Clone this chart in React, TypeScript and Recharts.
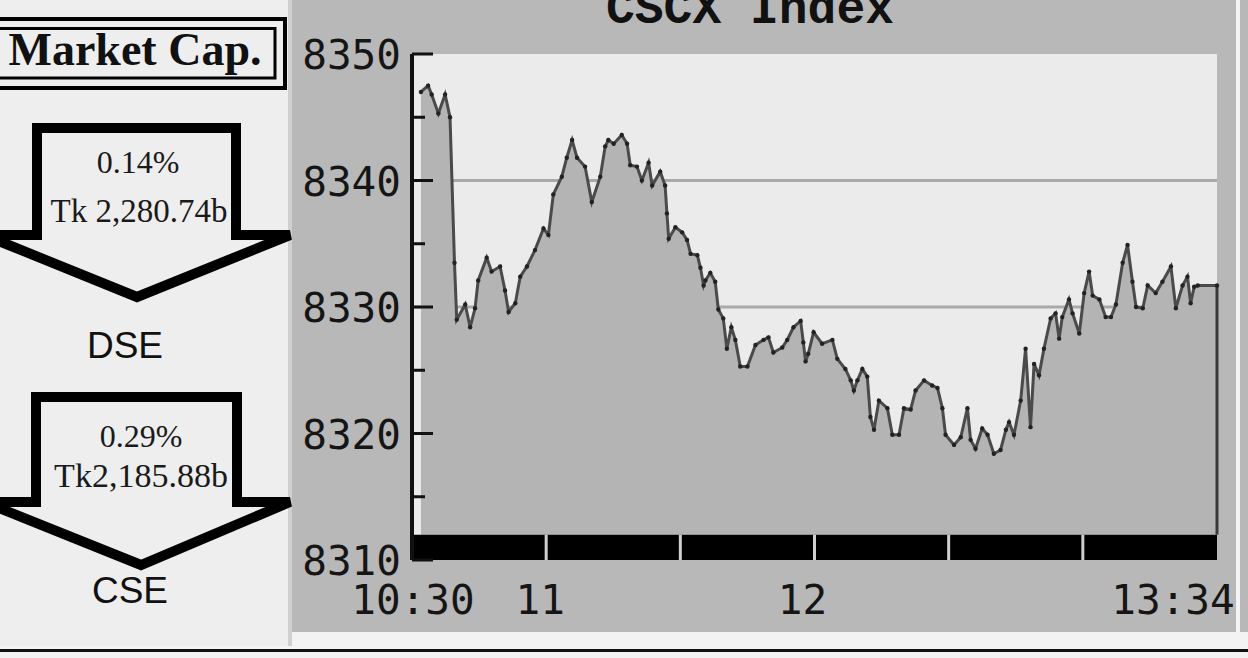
import {
  AreaChart, Area, XAxis, YAxis, CartesianGrid, ReferenceArea, ReferenceLine
} from "recharts";

// minutes after 10:30
const minutes = [
  2.0, 3.6, 4.4, 5.9, 7.4, 8.5, 9.5, 10.0, 11.9, 13.0, 14.1, 14.8, 16.7, 17.8, 19.7,
  20.8, 21.6, 23.1, 24.2, 25.7, 27.5, 29.4, 30.5, 31.6, 33.5, 34.6, 35.8, 36.9, 38.7,
  40.2, 42.1, 43.2, 43.9, 45.1, 46.9, 48.1, 48.8, 50.3, 51.4, 52.9, 53.7, 55.5, 56.6,
  57.0, 57.4, 58.9, 60.4, 61.5, 62.3, 63.8, 64.5, 65.2, 65.6, 66.7, 67.8, 68.5, 69.6,
  70.4, 71.4, 72.3, 73.4, 75.0, 76.8, 78.6, 79.7, 80.8, 82.8, 83.9, 85.3, 86.9, 87.5,
  88.0, 88.6, 89.8, 91.7, 94.0, 95.1, 96.9, 98.1, 98.8, 99.6, 100.7, 101.8, 102.5,
  103.3, 104.4, 106.3, 107.4, 108.9, 110.0, 111.5, 112.6, 114.5, 116.3, 117.5, 118.6,
  119.3, 121.2, 122.7, 124.2, 124.9, 126.0, 127.5, 128.7, 130.1, 131.6, 132.8, 133.5,
  134.6, 136.1, 137.2, 138.3, 139.1, 140.2, 141.3, 142.8, 143.9, 144.7, 145.4, 146.9,
  147.7, 149.2, 150.3, 151.4, 152.2, 153.7, 155.1, 156.3, 157.4, 158.9, 160.0, 161.1,
  161.9, 163.4, 164.5, 166.3, 167.8, 169.7, 170.8, 172.3, 173.4, 174.1, 174.9, 175.7,
  180.0,
];

const cscx = [
  8347.0, 8347.5, 8346.8, 8345.3, 8346.8, 8345.0, 8333.5, 8329.0, 8330.2, 8328.4, 8329.9, 8332.1, 8333.9, 8332.8, 8333.2,
  8331.3, 8329.6, 8330.3, 8332.4, 8333.2, 8334.5, 8336.2, 8335.7, 8338.9, 8340.3, 8341.8, 8343.2, 8341.8, 8341.1,
  8338.3, 8340.3, 8342.7, 8343.2, 8342.9, 8343.6, 8342.9, 8341.2, 8341.1, 8340.0, 8341.4, 8339.6, 8340.7, 8339.6,
  8337.4, 8335.4, 8336.3, 8335.9, 8335.3, 8334.2, 8334.1, 8333.1, 8331.7, 8332.1, 8332.7, 8332.0, 8329.8, 8329.1,
  8326.7, 8328.4, 8327.4, 8325.3, 8325.3, 8327.0, 8327.4, 8327.6, 8326.4, 8326.8, 8327.4, 8328.4, 8328.9, 8327.2,
  8325.7, 8326.3, 8328.0, 8327.1, 8327.4, 8325.9, 8325.1, 8324.2, 8323.4, 8324.2, 8325.1, 8324.5, 8321.3,
  8320.3, 8322.6, 8322.0, 8319.9, 8319.9, 8322.0, 8321.9, 8323.4, 8324.2, 8323.8, 8323.6, 8322.0,
  8319.9, 8319.1, 8319.7, 8322.0, 8319.5, 8318.8, 8320.4, 8319.9, 8318.4, 8318.7, 8320.3, 8320.9,
  8319.9, 8322.6, 8326.7, 8320.5, 8325.5, 8324.6, 8326.7, 8329.1, 8329.5, 8327.5, 8329.2, 8330.6,
  8329.5, 8327.9, 8331.1, 8332.8, 8330.9, 8330.6, 8329.2, 8329.2, 8330.2, 8333.5, 8334.9, 8332.0,
  8330.0, 8329.9, 8331.7, 8331.1, 8332.0, 8333.2, 8329.9, 8331.7, 8332.4, 8330.3, 8331.6, 8331.7,
  8331.7,
];

const yTicks = [8310, 8315, 8320, 8325, 8330, 8335, 8340, 8345, 8350];
const gridValues = [8330, 8340];
const xTicks = [0, 30, 90, 180];
const xTickLabels = ["10:30", "11", "12", "13:34"];
const barTicks = [30, 60, 90, 120, 150];

const dse = { pct: "0.14%", cap: "Tk 2,280.74b", name: "DSE" };
const cse = { pct: "0.29%", cap: "Tk2,185.88b", name: "CSE" };

const data = minutes.map((t, i) => ({ t, v: cscx[i] }));
const lastValue = cscx[cscx.length - 1];

const MONO = "'DejaVu Sans Mono', monospace";
const SERIF = "'Liberation Serif', 'Times New Roman', serif";
const SANS = "'Liberation Sans', Arial, sans-serif";

function YTick(props: any) {
  const { x, y, payload } = props;
  const v = payload.value;
  const major = v % 10 === 0;
  return (
    <g>
      <line x1={x} x2={x + (major ? 21 : 13)} y1={y} y2={y} stroke="#111" strokeWidth={3} />
      {major && (
        <text x={x - 11} y={y + 15} textAnchor="end" fontFamily={MONO} fontSize={41} fill="#151515">
          {v}
        </text>
      )}
    </g>
  );
}

// nudges to match where the original puts its time labels
const labelShift: Record<number, number> = { 0: 1, 30: -6, 90: -12, 180: -44 };

function XTick(props: any) {
  const { x, y, payload } = props;
  const i = xTicks.indexOf(payload.value);
  return (
    <text x={x + (labelShift[payload.value] || 0)} y={y + 54} textAnchor="middle"
      fontFamily={MONO} fontSize={41} fill="#151515">
      {xTickLabels[i]}
    </text>
  );
}

function Arrow({ top, shoulder, left, right, tipX, tipY }: any) {
  const d = `M${left},${top} L${right},${top} L${right},${shoulder} L290,${shoulder} L${tipX},${tipY} L-16,${shoulder} L${left},${shoulder} Z`;
  return <path d={d} fill="none" stroke="#000" strokeWidth={10} strokeLinejoin="miter" />;
}

function LeftPanel() {
  return (
    <svg width={292} height={646} style={{ position: "absolute", left: 0, top: 0 }}>
      <rect x={0} y={0} width={292} height={646} fill="#eeeeee" />
      <rect x={288} y={0} width={4} height={646} fill="#d0d0d0" />
      <rect x={-10} y={19} width={295} height={69} fill="none" stroke="#000" strokeWidth={4} />
      <rect x={-10} y={28.5} width={285} height={49.5} fill="none" stroke="#000" strokeWidth={3} />
      <text x={135} y={65} textAnchor="middle" fontFamily={SERIF} fontWeight="bold" fontSize={46} fill="#111">
        Market Cap.
      </text>

      <Arrow top={128} shoulder={235} left={37} right={236} tipX={137} tipY={297} />
      <text x={138} y={173} textAnchor="middle" fontFamily={SERIF} fontSize={32} fill="#1a1a1a">{dse.pct}</text>
      <text x={139} y={222} textAnchor="middle" fontFamily={SERIF} fontSize={33} fill="#1a1a1a">{dse.cap}</text>
      <text x={125} y={358} textAnchor="middle" fontFamily={SANS} fontSize={37} fill="#111">{dse.name}</text>

      <Arrow top={397} shoulder={502} left={36} right={237} tipX={141} tipY={565} />
      <text x={141} y={447} textAnchor="middle" fontFamily={SERIF} fontSize={32} fill="#1a1a1a">{cse.pct}</text>
      <text x={141} y={487} textAnchor="middle" fontFamily={SERIF} fontSize={34} fill="#1a1a1a">{cse.cap}</text>
      <text x={130} y={603} textAnchor="middle" fontFamily={SANS} fontSize={37} fill="#111">{cse.name}</text>
    </svg>
  );
}

export default function App() {
  return (
    <div style={{ position: "absolute", left: 0, top: 0, width: 1248, height: 658, background: "#f3f3f3", overflow: "hidden" }}>
      <LeftPanel />
      <div style={{ position: "absolute", left: 292, top: 0, width: 944, height: 632, background: "#b8b8b8" }}>
        <AreaChart width={944} height={632} data={data} margin={{ top: 54, right: 19, bottom: 12, left: 0 }}>
          <CartesianGrid vertical={false} horizontalValues={gridValues} fill="#ebebeb" fillOpacity={1}
            stroke="#a9a9a9" strokeWidth={3} />
          <XAxis dataKey="t" type="number" domain={[0, 180]} ticks={xTicks} interval={0}
            tick={XTick} tickSize={0} tickMargin={0} axisLine={false} tickLine={false} height={60} />
          <YAxis type="number" domain={[8310, 8350]} ticks={yTicks} interval={0} allowDataOverflow
            tick={YTick} tickSize={0} tickMargin={0} tickLine={false} width={120}
            axisLine={{ stroke: "#111", strokeWidth: 4 }} />
          <Area type="linear" dataKey="v" baseValue={8312} stroke="#4a4a4a" strokeWidth={3}
            fill="#b4b4b4" fillOpacity={1} dot={{ r: 2.2, fill: "#222", stroke: "none" }}
            activeDot={false} isAnimationActive={false} />
          <ReferenceArea x1={0} y1={8310} x2={180} y2={8312} fill="#000" fillOpacity={1} stroke="none" />
          {barTicks.map((t) => (
            <ReferenceLine key={t} segment={[{ x: t, y: 8310 }, { x: t, y: 8312 }]} stroke="#cfcfcf" strokeWidth={3} />
          ))}
          <ReferenceLine segment={[{ x: 180, y: 8312 }, { x: 180, y: lastValue }]} stroke="#3a3a3a" strokeWidth={3} />
        </AreaChart>
        <svg width={944} height={40} style={{ position: "absolute", left: 0, top: 0 }}>
          <text x={458} y={23} textAnchor="middle" fontFamily="'Liberation Mono', monospace" fontWeight="bold"
            fontSize={48} fill="#111">CSCX Index</text>
        </svg>
      </div>
      <div style={{ position: "absolute", left: 1240, top: 0, width: 8, height: 632, background: "#b8b8b8" }} />
      <div style={{ position: "absolute", left: 0, top: 649, width: 1248, height: 3, background: "#111" }} />
    </div>
  );
}
